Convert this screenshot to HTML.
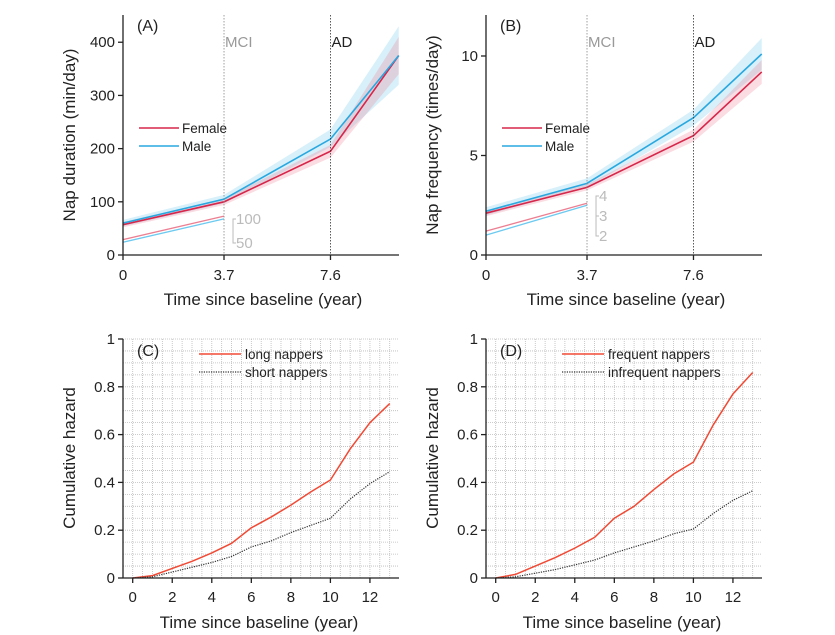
<!DOCTYPE html>
<html><head><meta charset="utf-8"><style>
body{margin:0;background:#fff}
svg{display:block;font-family:"Liberation Sans",Arial,sans-serif}
</style></head><body>
<svg id="fig" width="835" height="635" viewBox="0 0 835 635"></svg>
<script>
// Panel A data
const abX=[0,3.7,7.6,10.1];
const aFemale=[57,100,195,375];
const aMale=[60,105,218,375];
const aFemaleLo=[52,94,183,340];
const aFemaleHi=[62,106,207,410];
const aMaleLo=[54,97,203,320];
const aMaleHi=[66,113,236,430];
const aSmallFemale=[29,73];
const aSmallMale=[24,68];
const aYTicks=[0,100,200,300,400];
// Panel B data
const bFemale=[2.1,3.4,6.0,9.2];
const bMale=[2.2,3.6,6.9,10.1];
const bFemaleLo=[1.95,3.25,5.7,8.6];
const bFemaleHi=[2.25,3.55,6.3,9.8];
const bMaleLo=[2.0,3.4,6.5,9.3];
const bMaleHi=[2.4,3.85,7.3,10.9];
const bSmallFemale=[1.2,2.6];
const bSmallMale=[1.0,2.5];
const bYTicks=[0,5,10];
const abXTicks=[0,3.7,7.6];
// Panel C/D data
const cdYears=[0,1,2,3,4,5,6,7,8,9,10,11,12,13];
const cLong=[0,0.01,0.04,0.07,0.105,0.145,0.21,0.255,0.305,0.36,0.41,0.54,0.65,0.73];
const cShort=[0,0.005,0.025,0.045,0.065,0.09,0.13,0.155,0.19,0.22,0.25,0.33,0.395,0.445];
const dFreq=[0,0.015,0.05,0.085,0.125,0.17,0.25,0.3,0.37,0.435,0.485,0.64,0.77,0.86];
const dInfreq=[0,0.005,0.02,0.035,0.055,0.075,0.105,0.13,0.155,0.185,0.205,0.27,0.325,0.365];
const cdXTicks=[0,2,4,6,8,10,12];
const cdYTicks=[0,0.2,0.4,0.6,0.8,1];

const svg=document.getElementById('fig');
const NS='http://www.w3.org/2000/svg';
function mk(tag,attrs,parent,text){const e=document.createElementNS(NS,tag);for(const k in attrs)e.setAttribute(k,attrs[k]);if(text!==undefined)e.textContent=text;(parent||svg).appendChild(e);return e;}
const RED='#d7264a',BLUE='#29a8e0',ORANGE='#f04a35';

function panelAB(ox,yMax,lab,ytitle,F,M,FL,FH,ML,MH,SF,SM,yt,small,nm){
  const g=mk('g',{});
  
  
  const x0=ox,y0=255,pxYear=27.3;
  const sx=v=>x0+v*pxYear, sy=v=>y0-v/yMax*200;
  const right=ox+276;
  function band(lo,hi,col,n){const pts=abX.map((x,i)=>sx(x)+','+sy(hi[i])).concat(abX.map((x,i)=>sx(x)+','+sy(lo[i])).reverse());
    const p=mk('polygon',{points:pts.join(' '),fill:col,'fill-opacity':0.3,stroke:'none'},g);
    }
  band(ML,MH,'#7ccdf0','male-ci-band');
  band(FL,FH,'#f08aa0','female-ci-band');
  function line(ys,col,n,xs,w){const p=mk('polyline',{points:(xs||abX).map((x,i)=>sx(x)+','+sy(ys[i])).join(' '),fill:'none',stroke:col,'stroke-width':w||1.6},g);
    }
  line(F,RED,'female-line');line(M,BLUE,'male-line');
  line(SF,'#ec7f92','female-slope-line',[0,3.7],1.3);line(SM,'#6ccaf0','male-slope-line',[0,3.7],1.3);
  [[3.7,'MCI','#999','mci-line'],[7.6,'AD','#222','ad-line']].forEach(v=>{
    const l=mk('line',{x1:sx(v[0]),x2:sx(v[0]),y1:15,y2:y0,stroke:v[2]==='#999'?'#888':'#333','stroke-width':0.8,'stroke-dasharray':'1.5,1.5'},g);
    
    const t=mk('text',{x:sx(v[0])+1,y:47,'font-size':15,fill:v[2]},g,v[1]);
    });
  mk('line',{x1:x0,x2:x0,y1:15,y2:y0,stroke:'#222','stroke-width':1.3},g);
  mk('line',{x1:x0,x2:right,y1:y0,y2:y0,stroke:'#222','stroke-width':1.3},g);
  yt.forEach(v=>{mk('line',{x1:x0-5,x2:x0,y1:sy(v),y2:sy(v),stroke:'#222','stroke-width':1.3},g);
    const t=mk('text',{x:x0-8,y:sy(v)+5,'font-size':15,'text-anchor':'end',fill:'#222'},g,v);
    });
  abXTicks.forEach(v=>{mk('line',{x1:sx(v),x2:sx(v),y1:y0,y2:y0+5,stroke:'#222','stroke-width':1.3},g);
    const t=mk('text',{x:sx(v),y:y0+25,'font-size':15,'text-anchor':'middle',fill:'#222'},g,v);
    });
  const xt=mk('text',{x:x0+140,y:y0+50,'font-size':17,'text-anchor':'middle',fill:'#222'},g,'Time since baseline (year)');
  
  const yT=mk('text',{x:0,y:0,'font-size':17,'text-anchor':'middle',fill:'#222',transform:`translate(${x0-48},135) rotate(-90)`},g,ytitle);
  
  const pl=mk('text',{x:x0+14,y:31,'font-size':16,fill:'#222'},g,lab);
  
  [['Female',RED,128],['Male',BLUE,146]].forEach(l=>{
    const lg=mk('g',{},g);
    mk('line',{x1:x0+16,x2:x0+56,y1:l[2],y2:l[2],stroke:l[1],'stroke-width':1.6},lg);
    mk('text',{x:x0+59,y:l[2]+5,'font-size':13.5,fill:'#222'},lg,l[0]);});
  const sb=mk('g',{},g);
  const bx=sx(3.7)+9;
  mk('polyline',{points:`${bx+3},${small[0][1]} ${bx},${small[0][1]} ${bx},${small[small.length-1][1]} ${bx+3},${small[small.length-1][1]}`,fill:'none',stroke:'#bbb','stroke-width':1},sb);
  small.forEach(s=>{mk('line',{x1:bx,x2:bx+3,y1:s[1],y2:s[1],stroke:'#bbb'},sb);mk('text',{x:bx+3,y:s[1]+5,'font-size':15,fill:'#bbb'},sb,s[0]);});
}
panelAB(123,376,'(A)','Nap duration (min/day)',aFemale,aMale,aFemaleLo,aFemaleHi,aMaleLo,aMaleHi,aSmallFemale,aSmallMale,aYTicks,[['100',219],['50',243]],'a');
panelAB(486,10.05,'(B)','Nap frequency (times/day)',bFemale,bMale,bFemaleLo,bFemaleHi,bMaleLo,bMaleHi,bSmallFemale,bSmallMale,bYTicks,[['4',196],['3',216],['2',236]],'b');

function panelCD(ox,lab,s1,s2,n1,n2,nm){
  const g=mk('g',{});
  
  
  const x0=ox,y0=578,top=339,right=ox+276;
  const sx=v=>x0+9.7+v*19.77, sy=v=>y0-v*(y0-top);
  for(let v=0.05;v<=1.0001;v+=0.05)mk('line',{x1:x0,x2:right,y1:sy(v),y2:sy(v),stroke:'#bbb','stroke-width':0.8,'stroke-dasharray':'1,1'},g);
  for(let v=-0.5;sx(v)<=right;v+=0.5)if(sx(v)>x0+1)mk('line',{x1:sx(v),x2:sx(v),y1:top,y2:y0,stroke:'#bbb','stroke-width':0.8,'stroke-dasharray':'1,1'},g);
  const l1=mk('polyline',{points:cdYears.map((x,i)=>sx(x)+','+sy(s1[i])).join(' '),fill:'none',stroke:ORANGE,'stroke-width':1.5},g);
  
  const l2=mk('polyline',{points:cdYears.map((x,i)=>sx(x)+','+sy(s2[i])).join(' '),fill:'none',stroke:'#333','stroke-width':1.2,'stroke-dasharray':'1.2,1.2'},g);
  
  mk('line',{x1:x0,x2:x0,y1:top,y2:y0,stroke:'#222','stroke-width':1.3},g);
  mk('line',{x1:x0,x2:right,y1:y0,y2:y0,stroke:'#222','stroke-width':1.3},g);
  cdYTicks.forEach(v=>{mk('line',{x1:x0-5,x2:x0,y1:sy(v),y2:sy(v),stroke:'#222','stroke-width':1.3},g);
    const t=mk('text',{x:x0-8,y:sy(v)+5,'font-size':15,'text-anchor':'end',fill:'#222'},g,v);
    });
  cdXTicks.forEach(v=>{mk('line',{x1:sx(v),x2:sx(v),y1:y0,y2:y0+5,stroke:'#222','stroke-width':1.3},g);
    const t=mk('text',{x:sx(v),y:y0+24,'font-size':15,'text-anchor':'middle',fill:'#222'},g,v);
    });
  const xt=mk('text',{x:x0+136,y:y0+50,'font-size':17,'text-anchor':'middle',fill:'#222'},g,'Time since baseline (year)');
  
  const yT=mk('text',{x:0,y:0,'font-size':17,'text-anchor':'middle',fill:'#222',transform:`translate(${x0-48},458) rotate(-90)`},g,'Cumulative hazard');
  
  const pl=mk('text',{x:x0+14,y:356,'font-size':16,fill:'#222'},g,lab);
  
  [[n1,ORANGE,354,''],[n2,'#333',372,'1.2,1.2']].forEach(l=>{
    const lg=mk('g',{},g);
    mk('line',{x1:x0+76,x2:x0+118,y1:l[2],y2:l[2],stroke:l[1],'stroke-width':l[3]?1.2:1.5,'stroke-dasharray':l[3]||'none'},lg);
    mk('text',{x:x0+122,y:l[2]+5,'font-size':13.5,fill:'#222'},lg,l[0]);});
}
panelCD(123,'(C)',cLong,cShort,'long nappers','short nappers','c');
panelCD(486,'(D)',dFreq,dInfreq,'frequent nappers','infrequent nappers','d');
</script>
</body></html>
